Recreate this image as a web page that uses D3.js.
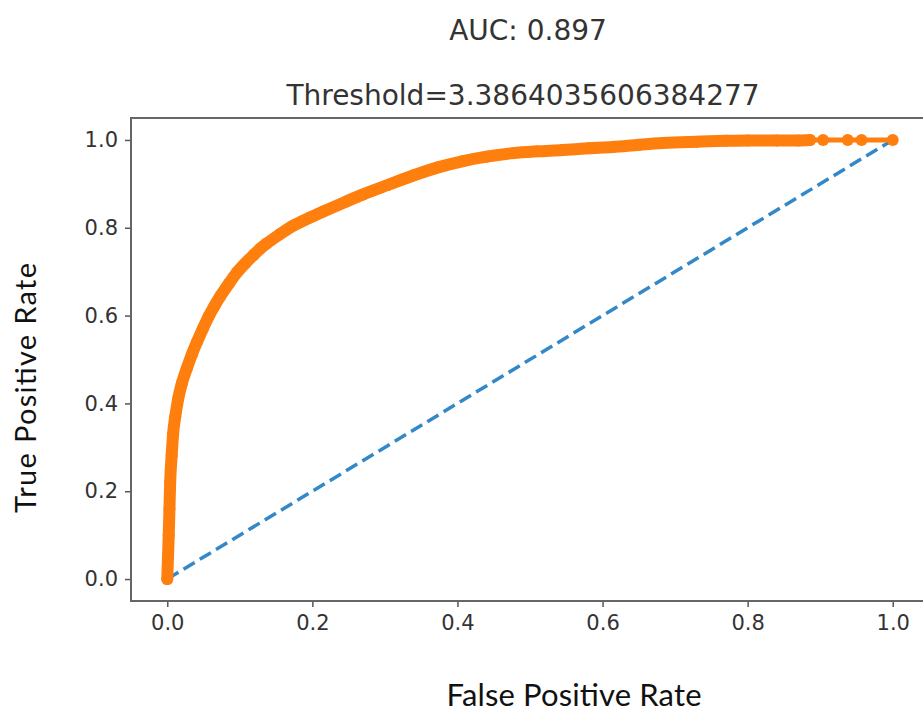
<!DOCTYPE html>
<html>
<head>
<meta charset="utf-8">
<script src="https://cdn.jsdelivr.net/npm/d3@7"></script>
<style>
    body { margin: 0; background: #fff; }
    svg { display: block; }
</style>
</head>
<body>
<div id="chart"></div>
<script>
// ROC curve (false positive rate / true positive rate)
var fpr = [0.000, 0.001, 0.002, 0.003, 0.004, 0.006, 0.008, 0.011, 0.015, 0.020, 0.027,
           0.034, 0.041, 0.049, 0.057, 0.065, 0.073, 0.085, 0.096, 0.108, 0.119, 0.128,
           0.137, 0.155, 0.174, 0.195, 0.215, 0.247, 0.270, 0.305, 0.339, 0.372, 0.408,
           0.440, 0.477, 0.510, 0.545, 0.580, 0.614, 0.650, 0.683, 0.730, 0.770, 0.800,
           0.840, 0.870, 0.886, 0.904, 0.938, 0.957, 1.000];
var tpr = [0.000, 0.050, 0.100, 0.160, 0.220, 0.280, 0.330, 0.370, 0.410, 0.445, 0.480,
           0.512, 0.540, 0.570, 0.598, 0.622, 0.644, 0.673, 0.698, 0.720, 0.738, 0.752,
           0.764, 0.785, 0.805, 0.822, 0.837, 0.860, 0.876, 0.898, 0.919, 0.937, 0.952,
           0.962, 0.970, 0.974, 0.977, 0.981, 0.984, 0.989, 0.993, 0.996, 0.998, 0.999,
           0.999, 0.999, 1.000, 1.000, 1.000, 1.000, 1.000];
// chance line
var chanceX = [0, 1],
    chanceY = [0, 1];

var xTicks = [0, 0.2, 0.4, 0.6, 0.8, 1.0],
    yTicks = [0, 0.2, 0.4, 0.6, 0.8, 1.0];

var titleLines = ["AUC: 0.897", "Threshold=3.3864035606384277"];
var xLabel = "False Positive Rate",
    yLabel = "True Positive Rate";

var W = 923, H = 715;
var margin = {top: 118, right: -6, bottom: 114, left: 131},
    width = W - margin.left - margin.right,
    height = H - margin.top - margin.bottom;

var svg = d3.select("#chart").append("svg")
    .attr("width", W)
    .attr("height", H);

var g = svg.append("g")
    .attr("transform", "translate(" + margin.left + "," + margin.top + ")");

// matplotlib style: 5% padding on both ends
var x = d3.scaleLinear().domain([-0.05, 1.05]).range([0, width]);
var y = d3.scaleLinear().domain([-0.05, 1.05]).range([height, 0]);

var line = d3.line()
    .x(function(d) { return x(d[0]); })
    .y(function(d) { return y(d[1]); });

// diagonal (dashed blue)
var chance = chanceX.map(function(d, i) { return [d, chanceY[i]]; });
g.append("path")
    .datum(chance)
    .attr("d", line)
    .attr("fill", "none")
    .attr("stroke", "#3388c8")
    .attr("stroke-width", 3.5)
    .attr("stroke-dasharray", "13,6");

// ROC curve (orange, thick markers)
var roc = fpr.map(function(d, i) { return [d, tpr[i]]; });
g.append("path")
    .datum(roc)
    .attr("d", line)
    .attr("fill", "none")
    .attr("stroke", "#ff7f0e")
    .attr("stroke-width", 5);

g.selectAll("circle.pt")
    .data(roc)
    .enter().append("circle")
    .attr("class", "pt")
    .attr("cx", function(d) { return x(d[0]); })
    .attr("cy", function(d) { return y(d[1]); })
    .attr("r", 6)
    .attr("fill", "#ff7f0e");

// dense part of the curve: markers overlap into a solid band
g.append("path")
    .datum(roc.filter(function(d) { return d[0] <= 0.886; }))
    .attr("d", line.curve(d3.curveMonotoneX))
    .attr("fill", "none")
    .attr("stroke", "#ff7f0e")
    .attr("stroke-width", 12)
    .attr("stroke-linejoin", "round")
    .attr("stroke-linecap", "round");

// axes
var xAxis = g.append("g")
    .attr("transform", "translate(0," + height + ")")
    .call(d3.axisBottom(x).tickValues(xTicks).tickFormat(d3.format(".1f")).tickSize(6).tickSizeOuter(0));
var yAxis = g.append("g")
    .call(d3.axisLeft(y).tickValues(yTicks).tickFormat(d3.format(".1f")).tickSize(6).tickSizeOuter(0));

[xAxis, yAxis].forEach(function(a) {
    a.select(".domain").remove();
    a.selectAll(".tick line").attr("stroke", "#555").attr("stroke-width", 1.5);
    a.selectAll(".tick text")
        .attr("fill", "#333")
        .style("font-family", "DejaVu Sans")
        .style("font-size", "21px");
});
xAxis.selectAll(".tick text").attr("y", 14);
yAxis.selectAll(".tick text").attr("x", -13);

// spines (right one falls outside the picture)
g.append("rect")
    .attr("x", 0).attr("y", 0)
    .attr("width", width).attr("height", height)
    .attr("fill", "none")
    .attr("stroke", "#666")
    .attr("stroke-width", 2);

// titles
svg.selectAll("text.title")
    .data(titleLines)
    .enter().append("text")
    .attr("class", "title")
    .attr("x", function(d, i) { return i === 0 ? 528 : 523; })
    .attr("y", function(d, i) { return i === 0 ? 40 : 105; })
    .attr("text-anchor", "middle")
    .attr("fill", "#333")
    .style("font-family", "DejaVu Sans")
    .style("font-size", "28px")
    .text(function(d) { return d; });

// axis labels
svg.append("text")
    .attr("x", 574)
    .attr("y", 706)
    .attr("text-anchor", "middle")
    .attr("textLength", 255)
    .attr("fill", "#111")
    .style("font-family", "Lato")
    .style("font-size", "31px")
    .text(xLabel);

svg.append("text")
    .attr("transform", "translate(36,388) rotate(-90)")
    .attr("text-anchor", "middle")
    .attr("textLength", 250)
    .attr("fill", "#111")
    .style("font-family", "Lato")
    .style("font-size", "29px")
    .text(yLabel);
</script>
</body>
</html>
